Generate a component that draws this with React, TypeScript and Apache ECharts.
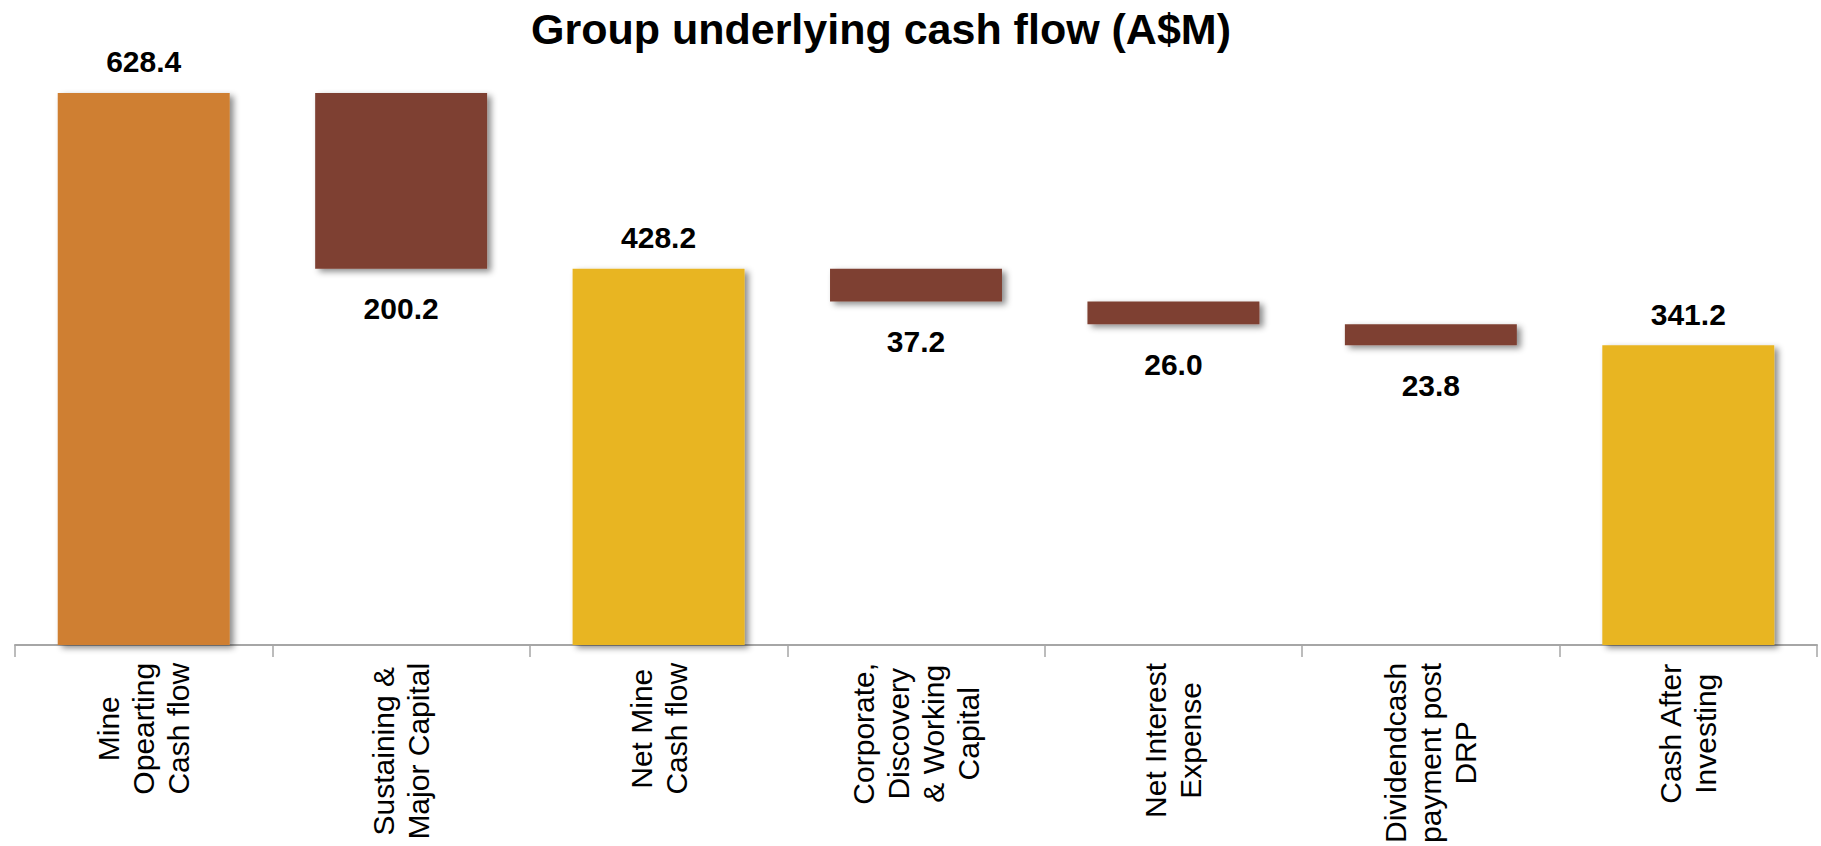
import React, { useEffect, useRef } from 'react';
import * as echarts from 'echarts';

const chartTitle = 'Group underlying cash flow (A$M)';
const categories = [
  'Mine\nOpearting\nCash flow',
  'Sustaining &\nMajor Capital',
  'Net Mine\nCash flow',
  'Corporate,\nDiscovery\n& Working\nCapital',
  'Net Interest\nExpense',
  'Dividendcash\npayment post\nDRP',
  'Cash After\nInvesting',
];
const amounts = [628.4, -200.2, 428.2, -37.2, -26.0, -23.8, 341.2];
const isTotal = [true, false, true, false, false, false, true];
const barColors = ['#CF7F31', '#7E4032', '#E8B524', '#7E4032', '#7E4032', '#7E4032', '#E8B524'];

export default function App() {
  const ref = useRef<HTMLDivElement>(null);
  useEffect(() => {
    if (!ref.current) return;
    const chart = echarts.init(ref.current, undefined, { renderer: 'svg' });

    const base: number[] = [];
    const visible: any[] = [];
    let running = 0;
    amounts.forEach((v, i) => {
      let b = 0;
      let h = v;
      if (isTotal[i]) {
        running = v;
      } else {
        running += v;
        b = running;
        h = -v;
      }
      base.push(b);
      visible.push({
        value: h,
        itemStyle: { color: barColors[i] },
        label: isTotal[i]
          ? { position: 'top', distance: 16 }
          : { position: 'bottom', distance: 25 },
      });
    });

    chart.setOption({
      animation: false,
      backgroundColor: '#ffffff',
      title: {
        text: chartTitle,
        left: 526,
        top: 2,
        textStyle: {
          fontFamily: 'Liberation Sans, Arial, sans-serif',
          fontWeight: 'bold',
          fontSize: 43,
          color: '#000000',
        },
      },
      grid: { left: 15, right: 4, top: 30, bottom: 182, containLabel: false },
      xAxis: {
        type: 'category',
        data: categories,
        axisLine: { show: true, lineStyle: { color: '#A6A6A6', width: 2 } },
        axisTick: { show: true, length: 12, alignWithLabel: false, lineStyle: { color: '#A6A6A6', width: 1.5 } },
        axisLabel: {
          interval: 0,
          rotate: 90,
          margin: 18,
          color: '#000000',
          fontFamily: 'Liberation Sans, Arial, sans-serif',
          fontSize: 30,
          lineHeight: 35,
          formatter: (val: string) => val.split('\n').map((l) => `{c|${l}}`).join('\n'),
          rich: {
            c: {
              align: 'center',
              fontFamily: 'Liberation Sans, Arial, sans-serif',
              fontSize: 30,
              lineHeight: 35,
              color: '#000000',
            },
          },
        },
      },
      yAxis: {
        type: 'value',
        min: 0,
        max: 700,
        show: false,
        splitLine: { show: false },
      },
      series: [
        {
          type: 'bar',
          stack: 'w',
          data: base,
          barWidth: '66.8%',
          itemStyle: { color: 'rgba(0,0,0,0)' },
          silent: true,
          label: { show: false },
        },
        {
          type: 'bar',
          stack: 'w',
          data: visible,
          barWidth: '66.8%',
          itemStyle: {
            shadowColor: 'rgba(0,0,0,0.45)',
            shadowBlur: 6,
            shadowOffsetX: 4,
            shadowOffsetY: 3,
          },
          label: {
            show: true,
            fontFamily: 'Liberation Sans, Arial, sans-serif',
            fontWeight: 'bold',
            fontSize: 30,
            color: '#000000',
            formatter: (p: any) => Math.abs(amounts[p.dataIndex]).toFixed(1),
          },
        },
      ],
    });
    return () => chart.dispose();
  }, []);
  return (
    <div
      ref={ref}
      style={{ position: 'absolute', left: 0, top: 0, width: 1821, height: 846 }}
    />
  );
}
